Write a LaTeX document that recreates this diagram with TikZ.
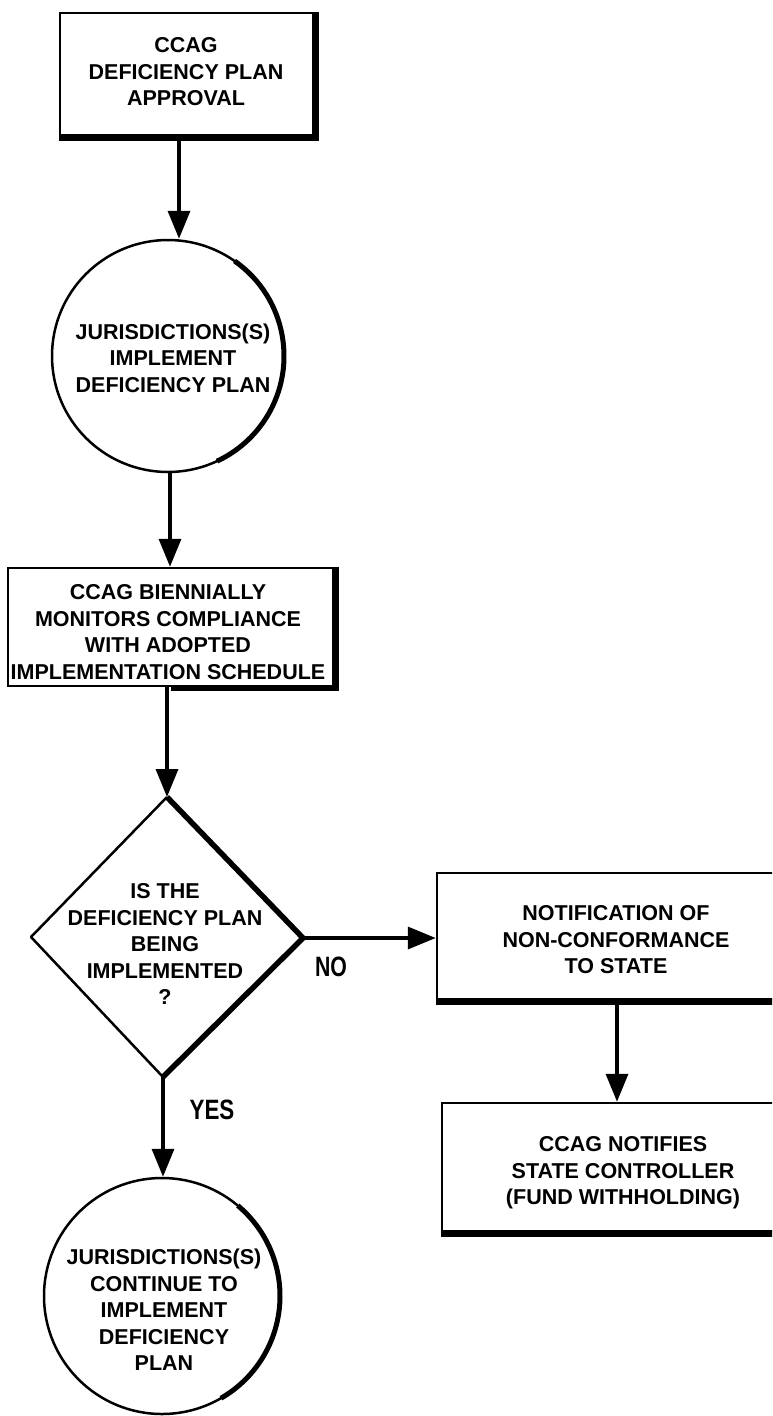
\documentclass[tikz,border=0pt]{standalone}
\usepackage{fontspec}
\setmainfont{Liberation Sans}
\usepackage{graphicx}
\usetikzlibrary{arrows.meta}
\begin{document}
\begin{tikzpicture}[x=1pt,y=-1pt,
  box/.style={draw, rectangle, line width=2.5pt, inner sep=0pt},
  circ/.style={draw, ellipse, line width=2.5pt, inner sep=0pt},
  txt/.style={font=\fontsize{21.5}{26.5}\selectfont\bfseries, align=center, inner sep=0pt},
  lbl/.style={font=\fontsize{28}{30}\selectfont\bfseries, inner sep=0pt},
  shade/.style={line width=6pt},
  arr/.style={line width=3.5pt, -{Triangle[length=28pt,width=22pt]}}]
\useasboundingbox (0,0) rectangle (772,1416);
\clip (0,0) rectangle (772,1416);

% box 1
\node[box, minimum width=253pt, minimum height=122pt] (b1) at (186.5,74) {};
\node[txt] (t1) at (186,72) {CCAG\\DEFICIENCY PLAN\\APPROVAL};
\draw[shade] ([xshift=2pt]b1.north east) -- ([xshift=2pt,yshift=-2pt]b1.south east) -- ([yshift=-2pt]b1.south west);

% circle 1
\node[draw, circle, line width=2.5pt, inner sep=0pt, minimum size=232pt] (c1) at (168,356) {};
\node[txt] (t2) at (173,358) {JURISDICTIONS(S)\\IMPLEMENT\\DEFICIENCY PLAN};
\draw[line width=5pt] (c1.center) ++(-55:116) arc[start angle=-55, end angle=65, radius=116];

% box 2
\node[box, minimum width=325pt, minimum height=118pt] (b2) at (170.5,627) {};
\node[txt] (t3) at (168,632) {CCAG BIENNIALLY\\MONITORS COMPLIANCE\\WITH ADOPTED\\IMPLEMENTATION SCHEDULE};
\draw[shade] ([xshift=2pt]b2.north east) -- ([xshift=2pt,yshift=-1pt]b2.south east) -- ([yshift=-1pt]b2.south);

% diamond
\coordinate (dT) at (167,797);
\coordinate (dR) at (303,938);
\coordinate (dB) at (163,1077);
\coordinate (dL) at (31,937);
\draw[line width=2.5pt, line join=round] (dB) -- (dL) -- (dT);
\draw[line width=5.5pt, line join=round] (dT) -- (dR) -- (dB);
\node[txt] (t4) at (165,944) {IS THE\\DEFICIENCY PLAN\\BEING\\IMPLEMENTED\\?};

% box 3
\node[box, minimum width=358pt, minimum height=126pt] (b3) at (616,936) {};
\node[txt] (t5) at (616,940) {NOTIFICATION OF\\NON-CONFORMANCE\\TO STATE};
\draw[shade] ([yshift=-2pt]b3.south west) -- ([yshift=-2pt]b3.south east);

% box 4
\node[box, minimum width=362pt, minimum height=128pt] (b4) at (623,1167) {};
\node[txt] (t6) at (623,1173) {CCAG NOTIFIES\\STATE CONTROLLER\\(FUND WITHHOLDING)};
\draw[shade] ([yshift=-2pt]b4.south west) -- ([yshift=-2pt]b4.south east);

% circle 2
\node[draw, circle, line width=2.5pt, inner sep=0pt, minimum size=236pt] (c2) at (162,1296) {};
\node[txt] (t7) at (164,1310) {JURISDICTIONS(S)\\CONTINUE TO\\IMPLEMENT\\DEFICIENCY\\PLAN};
\draw[line width=5pt] (c2.center) ++(-50:118) arc[start angle=-50, end angle=60, radius=118];

% connectors
\coordinate (ax1) at (179,0);
\coordinate (ax2) at (170,0);
\coordinate (ax3) at (617,0);
\draw[arr] (b1.south -| ax1) -- (c1.north -| ax1);
\draw[arr] (c1.south -| ax2) -- (b2.north -| ax2);
\draw[arr] (b2.south -| dT) -- (dT);
\draw[arr] (dR) -- (b3.west |- dR);
\draw[arr] (dB) -- (dB |- c2.north);
\draw[arr] (b3.south -| ax3) -- (b4.north -| ax3);

\node[lbl] (no) at (331,967) {\scalebox{0.76}[1]{NO}};
\node[lbl] (yes) at (212,1110) {\scalebox{0.8}[1]{YES}};
\end{tikzpicture}
\end{document}
